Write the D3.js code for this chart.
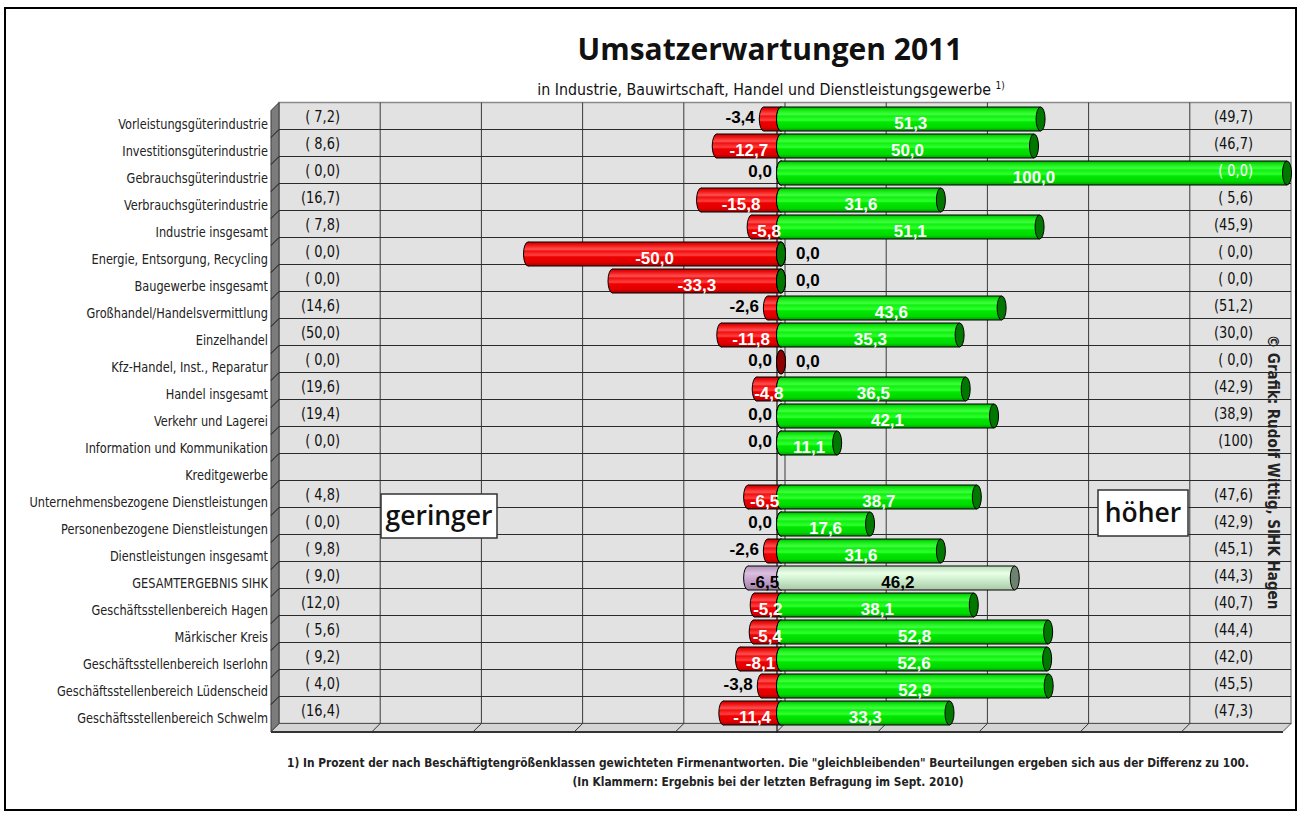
<!DOCTYPE html>
<html>
<head>
<meta charset="utf-8">
<script src="https://cdn.jsdelivr.net/npm/d3@7"></script>
<style>
  body { margin: 0; background: #fff; }
  svg { display: block; }
  .lbl { font-family: "Liberation Sans Narrow", "DejaVu Sans Condensed", "Liberation Sans", sans-serif; }
  .val { font-family: "Liberation Sans", Arial, sans-serif; font-weight: bold; }
</style>
</head>
<body>
<svg id="chart" width="1301" height="814"></svg>
<script>
    const categories = [
        "Vorleistungsgüterindustrie", "Investitionsgüterindustrie", "Gebrauchsgüterindustrie",
        "Verbrauchsgüterindustrie", "Industrie insgesamt", "Energie, Entsorgung, Recycling",
        "Baugewerbe insgesamt", "Großhandel/Handelsvermittlung", "Einzelhandel",
        "Kfz-Handel, Inst., Reparatur", "Handel insgesamt", "Verkehr und Lagerei",
        "Information und Kommunikation", "Kreditgewerbe", "Unternehmensbezogene Dienstleistungen",
        "Personenbezogene Dienstleistungen", "Dienstleistungen insgesamt", "GESAMTERGEBNIS SIHK",
        "Geschäftsstellenbereich Hagen", "Märkischer Kreis", "Geschäftsstellenbereich Iserlohn",
        "Geschäftsstellenbereich Lüdenscheid", "Geschäftsstellenbereich Schwelm"
    ];
    // "geringer" answers (negative side)
    const lower = [-3.4, -12.7, 0.0, -15.8, -5.8, -50.0, -33.3, -2.6, -11.8, 0.0, -4.8, 0.0,
                   0.0, null, -6.5, 0.0, -2.6, -6.5, -5.2, -5.4, -8.1, -3.8, -11.4];
    // "höher" answers (positive side)
    const higher = [51.3, 50.0, 100.0, 31.6, 51.1, 0.0, 0.0, 43.6, 35.3, 0.0, 36.5, 42.1,
                    11.1, null, 38.7, 17.6, 31.6, 46.2, 38.1, 52.8, 52.6, 52.9, 33.3];
    // values of the previous survey (Sept. 2010)
    const prevLower = ["( 7,2)", "( 8,6)", "( 0,0)", "(16,7)", "( 7,8)", "( 0,0)", "( 0,0)", "(14,6)",
                       "(50,0)", "( 0,0)", "(19,6)", "(19,4)", "( 0,0)", "", "( 4,8)", "( 0,0)",
                       "( 9,8)", "( 9,0)", "(12,0)", "( 5,6)", "( 9,2)", "( 4,0)", "(16,4)"];
    const prevHigher = ["(49,7)", "(46,7)", "( 0,0)", "( 5,6)", "(45,9)", "( 0,0)", "( 0,0)", "(51,2)",
                        "(30,0)", "( 0,0)", "(42,9)", "(38,9)", "(100)", "", "(47,6)", "(42,9)",
                        "(45,1)", "(44,3)", "(40,7)", "(44,4)", "(42,0)", "(45,5)", "(47,3)"];
    const gridTicks = [-80, -60, -40, -20, 0, 20, 40, 60, 80];
    const totalRow = "GESAMTERGEBNIS SIHK";

    const svg = d3.select("#chart");
    const depth = 8;
    const mid = depth / 2;   // bars sit halfway between front and back
    const x = d3.scaleLinear().domain([-100, 100]).range([271, 1283]);
    const y = d3.scaleBand().domain(categories).range([110.5, 731.5]);
    const fmt = v => d3.format(".1f")(Math.abs(v) < 1e-9 ? 0 : v).replace(".", ",").replace("\u2212", "-");

    // outer frame
    svg.append("rect").attr("x", 5).attr("y", 8).attr("width", 1291).attr("height", 802)
        .attr("fill", "#fff").attr("stroke", "#000").attr("stroke-width", 2);

    // gradients for the cylinders
    const defs = svg.append("defs");
    function cylGrad(id, stops) {
        const g = defs.append("linearGradient").attr("id", id)
            .attr("x1", 0).attr("y1", 0).attr("x2", 0).attr("y2", 1);
        stops.forEach(s => g.append("stop").attr("offset", s[0]).attr("stop-color", s[1]));
    }
    cylGrad("gGreen", [[0, "#00b000"], [0.12, "#10e810"], [0.3, "#40ff40"], [0.38, "#10f010"],
                       [0.55, "#30ff30"], [0.62, "#00e800"], [0.85, "#00d800"], [1, "#009800"]]);
    cylGrad("gRed", [[0, "#c00000"], [0.12, "#ee1010"], [0.3, "#ff5050"], [0.38, "#f01010"],
                     [0.55, "#ff4040"], [0.62, "#ee0000"], [0.85, "#e00000"], [1, "#a00000"]]);
    cylGrad("gLilac", [[0, "#b090b8"], [0.3, "#dcc0e0"], [0.5, "#ccaad4"], [1, "#a080a8"]]);
    cylGrad("gPale", [[0, "#b8dcb8"], [0.3, "#e8ffe8"], [0.5, "#d4f4d4"], [1, "#a8c8a8"]]);

    // back wall
    const bx0 = x(-100) + depth, bx1 = x(100) + depth;
    const by0 = y.range()[0] - depth, by1 = y.range()[1] - depth;
    svg.append("rect").attr("x", bx0).attr("y", by0).attr("width", bx1 - bx0).attr("height", by1 - by0)
        .attr("fill", "#e2e2e2").attr("stroke", "#8a8a8a").attr("stroke-width", 1.5);

    // floor
    svg.append("polygon")
        .attr("points", [[x(-100), y.range()[1]], [bx0, by1], [bx1, by1], [x(100), y.range()[1]]].join(" "))
        .attr("fill", "#d4d4d4").attr("stroke", "#555").attr("stroke-width", 1);
    svg.append("line").attr("x1", x(-100)).attr("x2", x(100))
        .attr("y1", y.range()[1] + 0.5).attr("y2", y.range()[1] + 0.5)
        .attr("stroke", "#333").attr("stroke-width", 2);

    // vertical grid lines on the back wall + slanted floor ticks
    gridTicks.forEach(v => {
        svg.append("line").attr("x1", x(v) + depth).attr("x2", x(v) + depth)
            .attr("y1", by0).attr("y2", by1).attr("stroke", "#3a3a3a").attr("stroke-width", 1);
        svg.append("line").attr("x1", x(v) + depth).attr("x2", x(v))
            .attr("y1", by1).attr("y2", y.range()[1]).attr("stroke", "#333").attr("stroke-width", 1);
    });

    // horizontal grid lines
    categories.forEach((c, i) => {
        if (i === 0) return;
        const yy = y(c) - depth;
        svg.append("line").attr("x1", bx0).attr("x2", bx1).attr("y1", yy).attr("y2", yy)
            .attr("stroke", "#2a2a2a").attr("stroke-width", 1);
    });

    // left wall
    svg.append("polygon")
        .attr("points", [[x(-100), y.range()[0]], [bx0, by0], [bx0, by1], [x(-100), y.range()[1]]].join(" "))
        .attr("fill", "#7c7c7c").attr("stroke", "#3a3a3a").attr("stroke-width", 1);
    categories.forEach((c, i) => {
        if (i === 0) return;
        svg.append("line").attr("x1", bx0).attr("x2", x(-100))
            .attr("y1", y(c) - depth).attr("y2", y(c)).attr("stroke", "#111").attr("stroke-width", 1);
    });

    // zero line
    svg.append("line").attr("x1", x(0)).attr("x2", x(0))
        .attr("y1", y.range()[0]).attr("y2", y.range()[1] + 1).attr("stroke", "#111").attr("stroke-width", 1.2);

    // cylinders
    const barH = 24, rx = 4.5;
    function cylinder(x0, x1, cy, fill, capFill) {
        const g = svg.append("g");
        g.append("ellipse").attr("cx", x0).attr("cy", cy).attr("rx", rx).attr("ry", barH / 2)
            .attr("fill", fill).attr("stroke", "#000").attr("stroke-width", 1);
        if (x1 > x0) {
            g.append("rect").attr("x", x0).attr("y", cy - barH / 2).attr("width", x1 - x0).attr("height", barH)
                .attr("fill", fill);
            g.append("line").attr("x1", x0).attr("x2", x1).attr("y1", cy - barH / 2).attr("y2", cy - barH / 2)
                .attr("stroke", "#000").attr("stroke-width", 1);
            g.append("line").attr("x1", x0).attr("x2", x1).attr("y1", cy + barH / 2).attr("y2", cy + barH / 2)
                .attr("stroke", "#000").attr("stroke-width", 1);
        }
        g.append("ellipse").attr("cx", x1).attr("cy", cy).attr("rx", rx).attr("ry", barH / 2)
            .attr("fill", capFill).attr("stroke", "#000").attr("stroke-width", 1);
    }

    categories.forEach((c, i) => {
        const lo = lower[i], hi = higher[i];
        if (lo === null || hi === null) return;
        const cy = y(c) + y.bandwidth() / 2 - 5;
        const total = c === totalRow;
        cylinder(x(lo) + mid, x(0) + mid, cy, total ? "url(#gLilac)" : "url(#gRed)", total ? "#9a70a0" : "#8c0000");
        if (hi > 0 || lo < 0) {
            cylinder(x(0) + mid, x(hi) + mid, cy, total ? "url(#gPale)" : "url(#gGreen)", total ? "#6e8270" : "#007800");
        }
    });

    // value labels
    const vs = 17;
    categories.forEach((c, i) => {
        const lo = lower[i], hi = higher[i];
        if (lo === null || hi === null) return;
        const cy = y(c) + y.bandwidth() / 2 - 5;
        const total = c === totalRow;
        if (Math.abs(lo) >= 4) {
            svg.append("text").attr("class", "val").attr("x", (x(lo) + x(0)) / 2 + mid).attr("y", cy + 10)
                .attr("text-anchor", "middle").attr("font-size", vs)
                .attr("fill", total ? "#000" : "#fff").text(fmt(lo));
        } else {
            svg.append("text").attr("class", "val").attr("x", x(lo) - 5).attr("y", cy + 4)
                .attr("text-anchor", "end").attr("font-size", vs).attr("fill", "#000").text(fmt(lo));
        }
        if (hi > 0) {
            svg.append("text").attr("class", "val").attr("x", (x(0) + x(hi)) / 2 + mid).attr("y", cy + 10)
                .attr("text-anchor", "middle").attr("font-size", vs)
                .attr("fill", total ? "#000" : "#fff").text(fmt(hi));
        } else {
            svg.append("text").attr("class", "val").attr("x", x(0) + 19).attr("y", cy + 5)
                .attr("text-anchor", "start").attr("font-size", vs).attr("fill", "#000").text(fmt(hi));
        }
    });

    // narrow-looking text: draw at full size then squeeze horizontally
    function squeeze(sel, k) {
        sel.each(function () {
            const w = this.getComputedTextLength();
            if (w > 0) d3.select(this).attr("textLength", w * k).attr("lengthAdjust", "spacingAndGlyphs");
        });
    }

    // previous survey values
    categories.forEach((c, i) => {
        const yy = y(c) + y.bandwidth() / 2 - 2;
        svg.append("text").attr("class", "lbl prev").attr("x", 340).attr("y", yy)
            .attr("text-anchor", "end").attr("font-size", 15.5).attr("fill", "#111").text(prevLower[i]);
        svg.append("text").attr("class", "lbl prev").attr("x", 1253).attr("y", yy)
            .attr("text-anchor", "end").attr("font-size", 15.5)
            .attr("fill", higher[i] >= 100 ? "#fff" : "#111").text(prevHigher[i]);
    });
    squeeze(svg.selectAll("text.prev"), 0.93);

    // category labels
    categories.forEach(c => {
        svg.append("text").attr("class", "lbl cat").attr("x", 268).attr("y", y(c) + y.bandwidth() / 2 + 5)
            .attr("text-anchor", "end").attr("font-size", 14).attr("fill", "#222").text(c);
    });
    squeeze(svg.selectAll("text.cat"), 0.9);

    // "geringer" / "höher" boxes
    function tagBox(bx, byy, w, h, txt) {
        svg.append("rect").attr("x", bx).attr("y", byy).attr("width", w).attr("height", h)
            .attr("fill", "#fff").attr("stroke", "#333").attr("stroke-width", 1.5);
        svg.append("text").attr("x", bx + w / 2).attr("y", byy + h / 2 + 9)
            .attr("text-anchor", "middle").attr("font-family", "'Open Sans', 'DejaVu Sans', sans-serif")
            .attr("font-weight", 600).attr("font-size", 26.5).attr("fill", "#111").text(txt);
    }
    tagBox(381, 494, 116, 44, "geringer");
    tagBox(1098, 490, 90, 46, "höher");

    // title
    svg.append("text").attr("x", 770).attr("y", 60).attr("text-anchor", "middle")
        .attr("font-family", "'Open Sans', 'Liberation Sans', sans-serif").attr("font-weight", "bold")
        .attr("font-size", 30).attr("fill", "#111").text("Umsatzerwartungen 2011");
    const sub = svg.append("text").attr("x", 771).attr("y", 95).attr("text-anchor", "middle")
        .attr("class", "lbl").attr("font-size", 15.8).attr("fill", "#111");
    sub.append("tspan").text("in Industrie, Bauwirtschaft, Handel und Dienstleistungsgewerbe ");
    sub.append("tspan").attr("dy", -6).attr("font-size", 10).text("1)");

    // copyright
    svg.append("text").attr("transform", "translate(1268,472) rotate(90)").attr("text-anchor", "middle")
        .attr("class", "lbl").attr("font-weight", "bold").attr("font-size", 15).attr("fill", "#222")
        .text("© Grafik: Rudolf Wittig, SIHK Hagen");

    // footnote
    svg.append("text").attr("class", "lbl").attr("x", 768).attr("y", 767).attr("text-anchor", "middle")
        .attr("font-weight", "bold").attr("font-size", 11.8).attr("fill", "#222")
        .text("1) In Prozent der nach Beschäftigtengrößenklassen gewichteten Firmenantworten. Die \"gleichbleibenden\" Beurteilungen ergeben sich aus der Differenz zu 100.");
    svg.append("text").attr("class", "lbl").attr("x", 768).attr("y", 786).attr("text-anchor", "middle")
        .attr("font-weight", "bold").attr("font-size", 11.8).attr("fill", "#222")
        .text("(In Klammern: Ergebnis bei der letzten Befragung im Sept. 2010)");
</script>
</body>
</html>
